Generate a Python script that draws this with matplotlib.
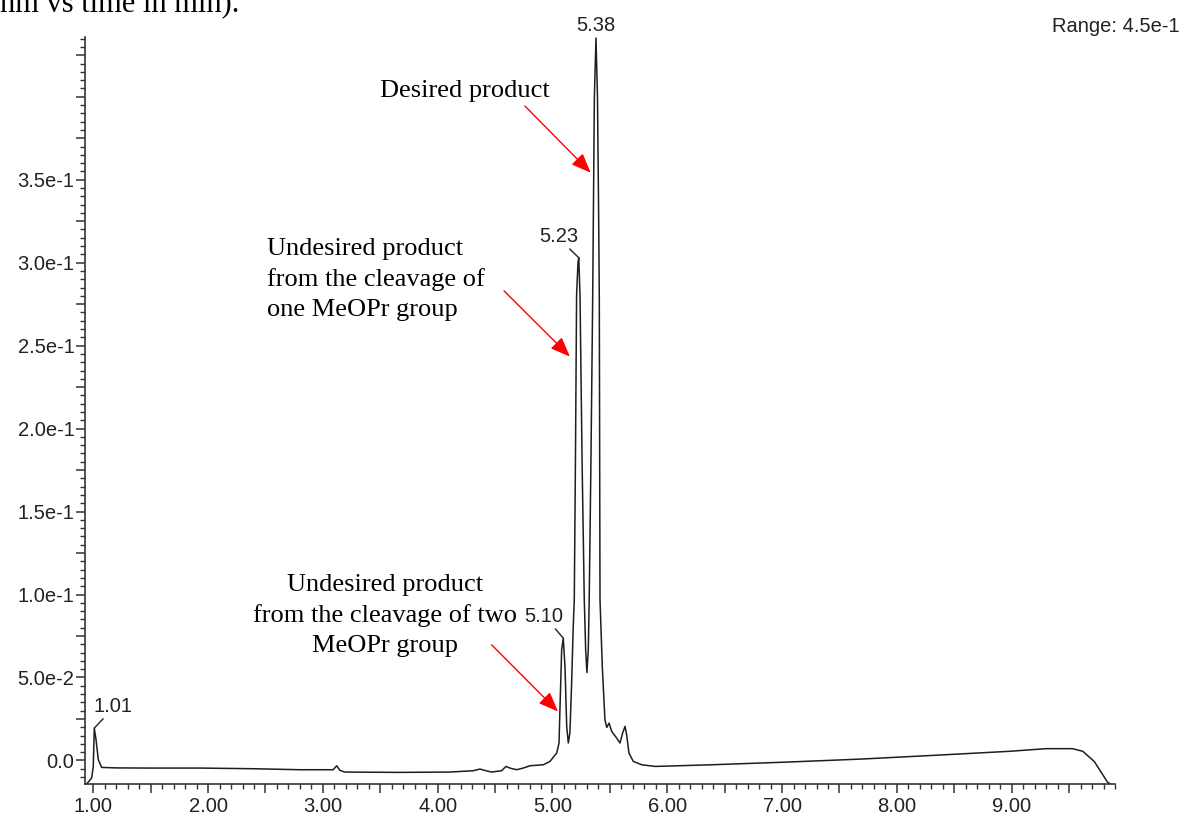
import numpy as np
import matplotlib
matplotlib.use("Agg")
import matplotlib.pyplot as plt
from matplotlib.ticker import FixedLocator

# ---- data ----
time_min = [0.942, 0.986, 1.000, 1.009, 1.024, 1.044, 1.073, 1.20, 1.50, 1.93,
            2.40, 2.80, 3.09, 3.12, 3.149, 3.19, 3.67, 4.107, 4.31, 4.368,
            4.41, 4.47, 4.557, 4.595, 4.63, 4.688, 4.75, 4.804, 4.92, 4.978,
            5.037, 5.057, 5.065, 5.080, 5.094, 5.109, 5.124, 5.138, 5.152, 5.167,
            5.181, 5.190, 5.200, 5.210, 5.222, 5.229, 5.240, 5.258, 5.277, 5.289,
            5.300, 5.312, 5.320, 5.335, 5.350, 5.365, 5.379, 5.392, 5.402, 5.408,
            5.414, 5.434, 5.457, 5.473, 5.493, 5.516, 5.559, 5.588, 5.611, 5.632,
            5.646, 5.666, 5.704, 5.777, 5.893, 6.00, 6.39, 7.04, 7.68, 8.33,
            8.98, 9.30, 9.53, 9.62, 9.72, 9.835, 9.86]
absorbance = [-0.0142, -0.0106, -0.0036, 0.0195, 0.0125, 0.0004, -0.0042, -0.0045, -0.0046, -0.0046,
              -0.0050, -0.0056, -0.0056, -0.0032, -0.0060, -0.0070, -0.0072, -0.0070, -0.0062, -0.0052,
              -0.0060, -0.0070, -0.0062, -0.0036, -0.0046, -0.0056, -0.0045, -0.0032, -0.0026, -0.0006,
              0.0045, 0.0105, 0.0305, 0.0667, 0.0737, 0.0566, 0.0205, 0.0105, 0.0167, 0.0470,
              0.0810, 0.0970, 0.1800, 0.2800, 0.3000, 0.3030, 0.2800, 0.1800, 0.0970, 0.0667,
              0.0530, 0.0667, 0.0970, 0.1800, 0.2770, 0.4000, 0.4354, 0.4000, 0.3300, 0.2770,
              0.0970, 0.0566, 0.0245, 0.0199, 0.0225, 0.0175, 0.0135, 0.0105, 0.0165, 0.0205,
              0.0155, 0.0045, -0.0006, -0.0026, -0.0036, -0.0034, -0.0026, -0.0010, 0.0008, 0.0031,
              0.0055, 0.0071, 0.0071, 0.0055, -0.0007, -0.0131, -0.0142]

peak_labels = ["1.01", "5.10", "5.23", "5.38"]
peak_times = [1.009, 5.094, 5.229, 5.379]

x_major_ticks = [1, 2, 3, 4, 5, 6, 7, 8, 9]
x_tick_labels = ["1.00", "2.00", "3.00", "4.00", "5.00", "6.00", "7.00", "8.00", "9.00"]
y_label_ticks = [0.0, 0.05, 0.10, 0.15, 0.20, 0.25, 0.30, 0.35]
y_tick_labels = ["0.0", "5.0e-2", "1.0e-1", "1.5e-1", "2.0e-1", "2.5e-1", "3.0e-1", "3.5e-1"]

annotation_texts = ["Desired product",
                    "Undesired product\nfrom the cleavage of\none MeOPr group",
                    "Undesired product\nfrom the cleavage of two\nMeOPr group"]
annotation_text_xy = [(4.238, 0.4034), (2.51, 0.2899), (3.541, 0.0872)]
annotation_ha = ["center", "left", "center"]
arrow_start = [(4.76, 0.3944), (4.578, 0.283), (4.47, 0.0697)]
arrow_tip = [(5.333, 0.3542), (5.152, 0.2434), (5.048, 0.0295)]

range_text = "Range: 4.5e-1"
header_text = "nm vs time in min)."

# ---- figure ----
W, H = 1183, 817
fig = plt.figure(figsize=(W / 100, H / 100), dpi=100)
ax = fig.add_axes([85 / W, 1 - 784 / H, (1115 - 85) / W, (784 - 37) / H])

sans = ["Liberation Sans", "DejaVu Sans"]
serif = ["Liberation Serif", "DejaVu Serif"]
ink = "#222222"

ax.plot(time_min, absorbance, color="#1e1e1e", lw=1.1, solid_joinstyle="round")

ax.set_xlim(0.928, 9.90)
ax.set_ylim(-0.0142, 0.436)

for s in ["top", "right"]:
    ax.spines[s].set_visible(False)
for s in ["left", "bottom"]:
    ax.spines[s].set_color("#333333")
    ax.spines[s].set_linewidth(1.2)

# x ticks: majors every 0.5 (labelled at integers), minors every 0.1
xmaj = np.arange(1.0, 9.51, 0.5)
ax.xaxis.set_major_locator(FixedLocator(xmaj))
xlab_map = dict(zip(x_major_ticks, x_tick_labels))
ax.set_xticklabels([xlab_map.get(int(round(v)), "") if abs(v - round(v)) < 1e-6 else "" for v in xmaj])
ax.xaxis.set_minor_locator(FixedLocator(np.arange(1.0, 9.91, 0.1)))

# y ticks: majors every 0.025 (labelled at 0.05), minors every 0.005
ymaj = np.arange(0.0, 0.4251, 0.025)
ax.yaxis.set_major_locator(FixedLocator(ymaj))
ylab_map = {round(v, 3): t for v, t in zip(y_label_ticks, y_tick_labels)}
ax.set_yticklabels([ylab_map.get(round(v, 3), "") for v in ymaj])
ax.yaxis.set_minor_locator(FixedLocator(np.arange(-0.010, 0.4351, 0.005)))

ax.tick_params(axis="x", which="major", direction="out", length=6.5, width=1.1,
               color="#333333", pad=3, labelsize=14.5, labelcolor=ink)
ax.tick_params(axis="x", which="minor", direction="out", length=3.8, width=1.0, color="#333333")
ax.tick_params(axis="y", which="major", direction="out", length=6.5, width=1.1,
               color="#333333", pad=1, labelsize=14.5, labelcolor=ink)
ax.tick_params(axis="y", which="minor", direction="out", length=3.6, width=1.0, color="#333333")
for lab in ax.get_xticklabels() + ax.get_yticklabels():
    lab.set_family(sans)

# peak labels with leader lines
offsets = [(19, 21.6), (-20, 21.5), (-20, 21), (0, 12.3)]
relx = [0.33, 0.73, 0.68, None]
for lab, t, off, rx in zip(peak_labels, peak_times, offsets, relx):
    yv = float(np.interp(t, time_min, absorbance))
    if rx is None:
        ax.annotate(lab, xy=(t, yv), xytext=off, textcoords="offset pixels",
                    ha="center", va="center", fontsize=14.5, family=sans, color=ink,
                    annotation_clip=False)
    else:
        ax.annotate(lab, xy=(t, yv), xytext=off, textcoords="offset pixels",
                    ha="center", va="center", fontsize=14.5, family=sans, color=ink,
                    annotation_clip=False,
                    arrowprops=dict(arrowstyle="-", color="#333333", lw=1.1,
                                    shrinkA=0, shrinkB=0, relpos=(rx, 0.05)))

# annotation texts and red arrows
for txt, xy, ha, a0, a1 in zip(annotation_texts, annotation_text_xy, annotation_ha,
                               arrow_start, arrow_tip):
    ax.text(xy[0], xy[1], txt, ha=ha, va="center", fontsize=19, family=serif,
            color="black", linespacing=1.45, multialignment=ha)
    ax.annotate("", xy=a1, xytext=a0,
                arrowprops=dict(arrowstyle="-|>,head_length=1.0,head_width=0.4",
                                color="#ff0000", lw=1.0, shrinkA=0, shrinkB=0,
                                mutation_scale=12))

fig.text(1180 / W, 1 - 27 / H, range_text, ha="right", va="center",
         fontsize=14.5, family=sans, color=ink)
fig.text(0.0, 1 - 11 / H, header_text, ha="left", va="baseline",
         fontsize=22, family=serif, color="black")

fig.savefig("out.png", dpi=100)
